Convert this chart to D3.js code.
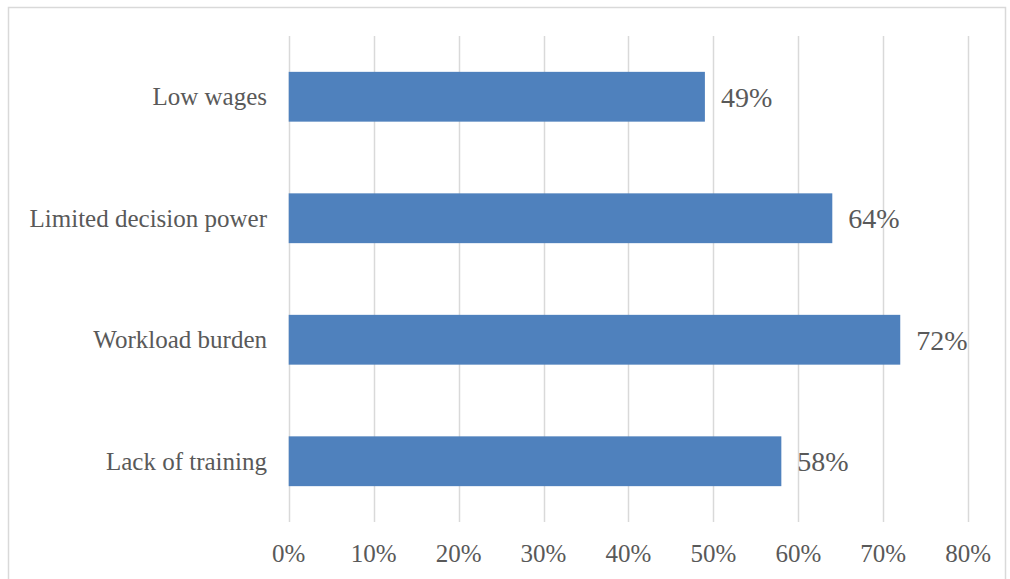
<!DOCTYPE html>
<html>
<head>
<meta charset="utf-8">
<script src="https://cdn.jsdelivr.net/npm/d3@7"></script>
<style>
  html, body { margin: 0; padding: 0; background: #fff; }
  svg { display: block; }
  text { font-family: "Liberation Serif", "DejaVu Serif", serif; fill: #595959; }
</style>
</head>
<body>
<svg id="chart" width="1010" height="579"></svg>
<script>
// Share of respondents citing each barrier
const categories = ["Low wages", "Limited decision power", "Workload burden", "Lack of training"];
const values = [0.49, 0.64, 0.72, 0.58];
const tickValues = [0, 0.1, 0.2, 0.3, 0.4, 0.5, 0.6, 0.7, 0.8];

const svg = d3.select("#chart");
const W = 1010, H = 579;

// outer chart frame
svg.append("rect")
  .attr("x", 8.5).attr("y", 7.5)
  .attr("width", W - 13).attr("height", H + 10)
  .attr("fill", "none").attr("stroke", "#d9d9d9").attr("stroke-width", 1.5);

const plot = { left: 288.7, right: 968.2, top: 36, bottom: 522 };

const x = d3.scaleLinear().domain([0, 0.8]).range([plot.left, plot.right]);
const y = d3.scaleBand().domain(categories).range([plot.top, plot.bottom]).paddingInner(0.59).paddingOuter(0.295);

// vertical gridlines
svg.append("g")
  .selectAll("line")
  .data(tickValues)
  .join("line")
  .attr("x1", d => Math.round(x(d)) + 0.5)
  .attr("x2", d => Math.round(x(d)) + 0.5)
  .attr("y1", plot.top).attr("y2", plot.bottom)
  .attr("stroke", "#d9d9d9").attr("stroke-width", 1.5);

// bars
svg.append("g")
  .selectAll("rect")
  .data(values)
  .join("rect")
  .attr("x", x(0))
  .attr("y", (d, i) => y(categories[i]))
  .attr("width", d => x(d) - x(0))
  .attr("height", y.bandwidth())
  .attr("fill", "#4f81bd");

// value labels
svg.append("g")
  .selectAll("text")
  .data(values)
  .join("text")
  .attr("x", d => x(d) + 16)
  .attr("y", (d, i) => y(categories[i]) + y.bandwidth() / 2)
  .attr("dy", "0.36em")
  .style("font-size", "28px")
  .text(d => d3.format(".0%")(d));

// category axis labels
svg.append("g")
  .selectAll("text")
  .data(categories)
  .join("text")
  .attr("x", 267)
  .attr("y", d => y(d) + y.bandwidth() / 2)
  .attr("dy", "0.33em")
  .attr("text-anchor", "end")
  .style("font-size", "25px")
  .text(d => d);

// value axis tick labels
svg.append("g")
  .selectAll("text")
  .data(tickValues)
  .join("text")
  .attr("x", d => x(d))
  .attr("y", 553)
  .attr("dy", "0.35em")
  .attr("text-anchor", "middle")
  .style("font-size", "25px")
  .text(d => d3.format(".0%")(d));
</script>
</body>
</html>
